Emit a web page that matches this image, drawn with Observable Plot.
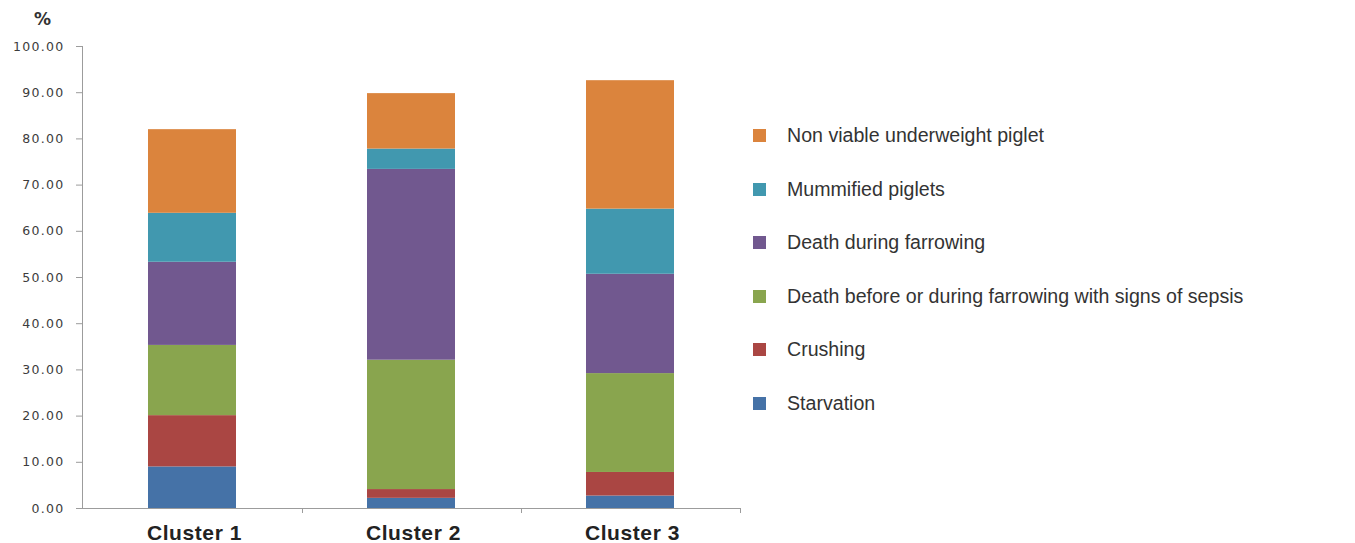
<!DOCTYPE html>
<html>
<head>
<meta charset="utf-8">
<script src="https://cdn.jsdelivr.net/npm/d3@7"></script>
<script src="https://cdn.jsdelivr.net/npm/@observablehq/plot@0.6"></script>
<style>
  body { margin: 0; background: #fff; }
  #chart { position: relative; width: 1355px; height: 543px; overflow: hidden; }
  #chart svg { position: absolute; left: 0; top: 0; }
  #chart g[aria-label="y-axis tick label"] text { letter-spacing: 1.3px; }
  #chart g[aria-label="text"] text { letter-spacing: 0.6px; }
  .unit {
    position: absolute; left: 34px; top: 11px;
    font: bold 17px/17px "DejaVu Sans", sans-serif; color: #333;
  }
  .legend { position: absolute; left: 753px; top: 0; }
  .legend .item {
    position: absolute; left: 0; height: 24px; white-space: nowrap;
    display: flex; align-items: center;
  }
  .legend .swatch { width: 13px; height: 13px; flex: none; }
  .legend .label {
    margin-left: 21px; font: 19.6px "Liberation Sans", Arial, sans-serif; color: #333;
  }
</style>
</head>
<body>
<div id="chart"></div>
<script>
// Causes of piglet mortality (%) by farm cluster
const clusters = ["Cluster 1", "Cluster 2", "Cluster 3"];
const causes = [
  "Starvation",
  "Crushing",
  "Death before or during farrowing with signs of sepsis",
  "Death during farrowing",
  "Mummified piglets",
  "Non viable underweight piglet"
];
const causeColors = ["#4572A7", "#AA4643", "#89A54E", "#71588F", "#4198AF", "#DB843D"];

// one value per cluster, in the order of `clusters`
const starvation  = [9.0, 2.2, 2.7];
const crushing    = [11.1, 1.9, 5.1];
const sepsis      = [15.2, 28.0, 21.4];
const farrowing   = [18.0, 41.3, 21.5];
const mummified   = [10.6, 4.4, 14.1];
const underweight = [18.1, 12.0, 27.8];

const yTicks = [0, 10, 20, 30, 40, 50, 60, 70, 80, 90, 100];

const series = [starvation, crushing, sepsis, farrowing, mummified, underweight];
const rows = [];
clusters.forEach((cluster, i) => {
  causes.forEach((cause, j) => rows.push({cluster, cause, value: series[j][i]}));
});

const axisColor = "#9c9c9c";

// vertical axis line and the category-boundary ticks under the baseline
function axisLines(index, scales, values, dimensions) {
  const {x, y} = scales;
  const n = clusters.length;
  const frameW = dimensions.width - dimensions.marginLeft - dimensions.marginRight;
  const step = typeof x.step === "function" ? x.step() : (x.step ?? frameW / n);
  const bw = typeof x.bandwidth === "function" ? x.bandwidth() : (x.bandwidth ?? step * 0.4);
  const y0 = y(0);
  const g = d3.create("svg:g").attr("stroke", axisColor).attr("stroke-width", 1);
  g.append("line")
    .attr("x1", dimensions.marginLeft + 0.5).attr("x2", dimensions.marginLeft + 0.5)
    .attr("y1", y(yTicks[yTicks.length - 1])).attr("y2", y0);
  for (const c of clusters) {
    const bx = Math.round(x(c) + bw / 2 + step / 2) + 0.5;
    g.append("line").attr("x1", bx).attr("x2", bx).attr("y1", y0).attr("y2", y0 + 5);
  }
  return g.node();
}

const plot = Plot.plot({
  width: 1355,
  height: 543,
  marginLeft: 82,
  marginRight: 615,
  marginTop: 46,
  marginBottom: 35,
  style: {fontFamily: "'DejaVu Sans', sans-serif", fontSize: "12.5px", background: "transparent"},
  x: {domain: clusters, paddingInner: 0.6, paddingOuter: 0.3, axis: null},
  y: {domain: [0, 100], axis: null},
  color: {domain: causes, range: causeColors},
  marks: [
    Plot.barY(rows, {x: "cluster", y: "value", fill: "cause"}),
    Plot.ruleY([0], {stroke: axisColor}),
    Plot.axisY({
      ticks: yTicks,
      tickFormat: d => d.toFixed(2),
      tickSize: 6,
      tickPadding: 12,
      stroke: axisColor,
      fill: "#3c3c3c",
      label: null
    }),
    axisLines,
    Plot.text(clusters, {
      x: d => d,
      frameAnchor: "bottom",
      lineAnchor: "bottom",
      dy: 31,
      dx: 2,
      fontSize: 21,
      fontWeight: "bold",
      fontFamily: "'Liberation Sans', Arial, sans-serif",
      fill: "#222"
    })
  ]
});

const chart = document.getElementById("chart");
chart.appendChild(plot);

const unit = document.createElement("div");
unit.className = "unit";
unit.textContent = "%";
chart.appendChild(unit);

// legend, listed from the top of the stack down
const legend = document.createElement("div");
legend.className = "legend";
const legendTop = 123.5, legendGap = 53.6;
causes.slice().reverse().forEach((cause, i) => {
  const item = document.createElement("div");
  item.className = "item";
  item.style.top = (legendTop + i * legendGap) + "px";
  const sw = document.createElement("div");
  sw.className = "swatch";
  sw.style.background = causeColors[causes.indexOf(cause)];
  const lab = document.createElement("div");
  lab.className = "label";
  lab.textContent = cause;
  item.appendChild(sw);
  item.appendChild(lab);
  legend.appendChild(item);
});
chart.appendChild(legend);
</script>
</body>
</html>
